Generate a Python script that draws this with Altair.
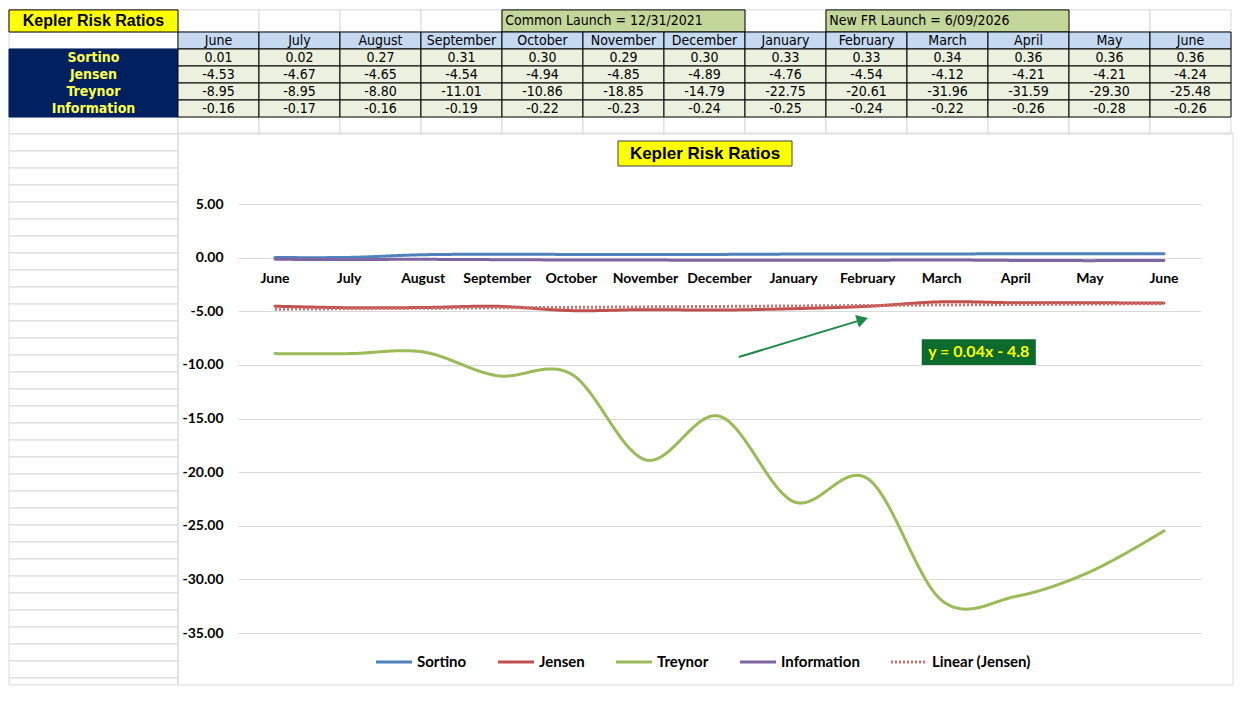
import math

import altair as alt
import pandas as pd

# --- data --------------------------------------------------------------------
MONTHS = ["June", "July", "August", "September", "October", "November", "December",
          "January", "February", "March", "April", "May", "June"]
SERIES = ["Sortino", "Jensen", "Treynor", "Information"]
SORTINO = [0.01, 0.02, 0.27, 0.31, 0.30, 0.29, 0.30, 0.33, 0.33, 0.34, 0.36, 0.36, 0.36]
JENSEN = [-4.53, -4.67, -4.65, -4.54, -4.94, -4.85, -4.89, -4.76, -4.54, -4.12, -4.21, -4.21, -4.24]
TREYNOR = [-8.95, -8.95, -8.80, -11.01, -10.86, -18.85, -14.79, -22.75, -20.61, -31.96, -31.59, -29.30, -25.48]
INFORMATION = [-0.16, -0.17, -0.16, -0.19, -0.22, -0.23, -0.24, -0.25, -0.24, -0.22, -0.26, -0.28, -0.26]
VALUES = [SORTINO, JENSEN, TREYNOR, INFORMATION]
TREND = "Linear (Jensen)"
Y_TICKS = [5, 0, -5, -10, -15, -20, -25, -30, -35]

TITLE = "Kepler Risk Ratios"
LAUNCH_NOTES = ["Common Launch = 12/31/2021", "New FR Launch = 6/09/2026"]
LAUNCH_SPANS = [(4, 7), (8, 11)]  # table columns covered by each note
EQUATION = "y = 0.04x - 4.8"

# --- palette (Excel 2010 defaults) -------------------------------------------
BLUE, RED, GREEN, PURPLE = "#4f81bd", "#c0504d", "#9bbb59", "#8064a2"
TREND_RED = "#cf6f6c"
NAVY = "#002060"
CREAM = "#ebf1de"
SKY = "#c5d9f1"
OLIVE = "#c4d79b"
YELLOW = "#ffff00"
LABEL_YELLOW = "#ffff4d"
GRID = "#d9d9d9"
EQ_GREEN = "#0b6a2c"
ARROW_GREEN = "#1f8a46"

NARROW = "'Liberation Sans Narrow', 'DejaVu Sans Condensed', 'Liberation Sans', sans-serif"
ARIAL = "'Liberation Sans', Arial, sans-serif"
CALIBRI = "Lato, 'Open Sans', sans-serif"

W, H = 963, 429
N = len(MONTHS)
LABEL_COLS = 2.086  # row-label column width, in month columns

# table scales put the sheet cells above the plot area (pixels from plot origin)
TX = alt.Scale(domain=[-LABEL_COLS, N], range=[-229, 993], nice=False, zero=False)
TY = alt.Scale(domain=[-0.3, 39], range=[-194.1, 474], nice=False, zero=False)
CX = alt.Scale(domain=[0.5, N + 0.5], nice=False, zero=False)
CY = alt.Scale(domain=[-35, 5], nice=False, zero=False)

ONE = pd.DataFrame({"a": [0]})


def col_edges(c):
    return (-LABEL_COLS, 0) if c < 0 else (c, c + 1)


def fmt(v):
    return f"{v:.2f}"


# --- spreadsheet table --------------------------------------------------------
grid_rows = []
for r in range(40):
    for c in (range(-1, N) if r < 7 else [-1]):
        x0, x1 = col_edges(c)
        grid_rows.append({"x0": x0, "x1": x1, "y0": -0.3 if r == 0 else r,
                          "y1": 39.4 if r == 39 else r + 1})
grid = pd.DataFrame(grid_rows)

cells = [{"x0": -LABEL_COLS, "x1": 0, "y0": -0.3, "y1": 1, "fill": YELLOW, "stroke": "black"}]
for a, b in LAUNCH_SPANS:
    cells.append({"x0": a, "x1": b, "y0": -0.3, "y1": 1, "fill": OLIVE, "stroke": "black"})
for c in range(N):
    cells.append({"x0": c, "x1": c + 1, "y0": 1, "y1": 2, "fill": SKY, "stroke": "black"})
for i in range(len(SERIES)):
    cells.append({"x0": -LABEL_COLS, "x1": 0, "y0": i + 2, "y1": i + 3, "fill": NAVY, "stroke": NAVY})
    for c in range(N):
        cells.append({"x0": c, "x1": c + 1, "y0": i + 2, "y1": i + 3, "fill": CREAM, "stroke": "black"})
cells = pd.DataFrame(cells)

numbers = pd.DataFrame([
    {"x": c + 0.5, "y": i + 2.5, "t": fmt(vals[c])}
    for i, vals in enumerate(VALUES) for c in range(N)
])
row_labels = pd.DataFrame({"x": -LABEL_COLS / 2, "y": [i + 2.5 for i in range(len(SERIES))], "t": SERIES})
heads = pd.DataFrame({"x": [c + 0.5 for c in range(N)], "y": 1.5, "t": MONTHS})
notes = pd.DataFrame({"x": [a + 0.04 for a, _ in LAUNCH_SPANS], "y": 0.35, "t": LAUNCH_NOTES})
tbl_title = pd.DataFrame({"x": [-LABEL_COLS / 2], "y": [0.35], "t": [TITLE]})

tx = alt.X("x0:Q", scale=TX, axis=None)
ty = alt.Y("y0:Q", scale=TY, axis=None)

sheet = alt.Chart(grid).mark_rect(fill="white", stroke=GRID, strokeWidth=1).encode(
    x=tx, x2="x1:Q", y=ty, y2="y1:Q")
coloured = alt.Chart(cells).mark_rect(strokeWidth=1).encode(
    x=tx, x2="x1:Q", y=ty, y2="y1:Q",
    fill=alt.Fill("fill:N", scale=None), stroke=alt.Stroke("stroke:N", scale=None))


def tbl_text(df, **kw):
    return alt.Chart(df).mark_text(baseline="middle", **kw).encode(
        x=alt.X("x:Q", scale=TX, axis=None), y=alt.Y("y:Q", scale=TY, axis=None), text="t:N")


table = alt.layer(
    sheet, coloured,
    tbl_text(tbl_title, font=ARIAL, fontSize=16, fontWeight="bold", color="black"),
    tbl_text(notes, font=NARROW, fontSize=14, color="black", align="left"),
    tbl_text(heads, font=NARROW, fontSize=14, color="black"),
    tbl_text(row_labels, font=NARROW, fontSize=14, fontWeight="bold", color=LABEL_YELLOW),
    tbl_text(numbers, font=NARROW, fontSize=14, color="black"),
)

# --- line chart ---------------------------------------------------------------
long = pd.DataFrame([
    {"idx": c + 1, "series": s, "value": vals[c]}
    for s, vals in zip(SERIES, VALUES) for c in range(N)
])
jensen = pd.DataFrame({"idx": list(range(1, N + 1)), "value": JENSEN})
month_df = pd.DataFrame({"idx": list(range(1, N + 1)), "month": MONTHS})

DOMAIN = SERIES + [TREND]
legend = alt.Legend(
    orient="none", legendX=136, legendY=438, direction="horizontal", title=None,
    symbolType="stroke", symbolSize=1300, labelFont=CALIBRI, labelFontSize=15,
    labelFontWeight="bold", labelColor="black", columnPadding=24, labelOffset=3,
)
color = alt.Color("series:N",
                  scale=alt.Scale(domain=DOMAIN, range=[BLUE, RED, GREEN, PURPLE, TREND_RED]),
                  legend=legend)
dash = alt.StrokeDash("series:N", scale=alt.Scale(domain=DOMAIN, range=[[1, 0]] * 4 + [[2, 2]]),
                      legend=legend)
width = alt.StrokeWidth("series:N", scale=alt.Scale(domain=DOMAIN, range=[3, 3, 3, 3, 1.1]),
                        legend=legend)

yaxis = alt.Axis(values=Y_TICKS, orient="left", grid=True, gridColor=GRID,
                 labelExpr="replace(format(datum.value, '.2f'), '\u2212', '-')",
                 domain=False, ticks=False, labelPadding=15, labelFont=CALIBRI,
                 labelFontSize=14, labelFontWeight="bold", labelColor="black", title=None)
cx = alt.X("idx:Q", scale=CX, axis=None)

box = alt.Chart(ONE).mark_rect(fill="transparent", stroke=GRID, strokeWidth=1).encode(
    x=alt.value(-60), x2=alt.value(995), y=alt.value(-71), y2=alt.value(481))
title_box = alt.Chart(ONE).mark_rect(fill=YELLOW, stroke="#404040", strokeWidth=1).encode(
    x=alt.value(380), x2=alt.value(554), y=alt.value(-63), y2=alt.value(-38))
title_txt = alt.Chart(ONE).mark_text(font=ARIAL, fontSize=17, fontWeight="bold", color="black",
                                     baseline="middle").encode(
    x=alt.value(467), y=alt.value(-50), text=alt.value(TITLE))

lines = alt.Chart(long).mark_line(interpolate="cardinal", strokeCap="round").encode(
    x=cx, y=alt.Y("value:Q", scale=CY, axis=yaxis), color=color, strokeDash=dash, strokeWidth=width)
trend = alt.Chart(jensen).transform_regression("idx", "value").transform_calculate(
    series=f"'{TREND}'").mark_line().encode(
    x=cx, y=alt.Y("value:Q", scale=CY), color=color, strokeDash=dash, strokeWidth=width)

month_txt = alt.Chart(month_df).mark_text(dy=21, font=CALIBRI, fontSize=14, fontWeight="bold",
                                          color="black", baseline="middle").encode(
    x=cx, y=alt.datum(0), text="month:N")

# annotation: arrow pointing at the trend line and the fitted equation
ARROW_FROM = (7.26, -9.27)
ARROW_TO = (8.93, -5.78)
EQ_BOX = (9.73, 11.27, -7.6, -10.0)
dx_px = (ARROW_TO[0] - ARROW_FROM[0]) * W / N
dy_px = (ARROW_TO[1] - ARROW_FROM[1]) * H / 40
head_angle = 90 - math.degrees(math.atan2(dy_px, dx_px))

arrow = alt.Chart(ONE).mark_rule(color=ARROW_GREEN, strokeWidth=2).encode(
    x=alt.datum(ARROW_FROM[0]), y=alt.datum(ARROW_FROM[1]),
    x2=alt.datum(ARROW_TO[0]), y2=alt.datum(ARROW_TO[1]))
head = alt.Chart(ONE).mark_point(shape="triangle-up", filled=True, size=170, opacity=1,
                                 color=ARROW_GREEN, angle=head_angle).encode(
    x=alt.datum(ARROW_TO[0]), y=alt.datum(ARROW_TO[1]))
eq_box = alt.Chart(ONE).mark_rect(fill=EQ_GREEN).encode(
    x=alt.datum(EQ_BOX[0]), x2=alt.datum(EQ_BOX[1]), y=alt.datum(EQ_BOX[2]), y2=alt.datum(EQ_BOX[3]))
eq_txt = alt.Chart(ONE).mark_text(font=CALIBRI, fontSize=16, fontWeight="bold", color=YELLOW,
                                  baseline="middle").encode(
    x=alt.datum((EQ_BOX[0] + EQ_BOX[1]) / 2), y=alt.datum((EQ_BOX[2] + EQ_BOX[3]) / 2),
    text=alt.value(EQUATION))

plot = alt.layer(box, title_box, title_txt, lines, trend, month_txt, arrow, head, eq_box, eq_txt)

chart = alt.layer(table, plot).resolve_scale(x="independent", y="independent").properties(
    width=W, height=H, background="white",
    padding={"left": 0, "top": 1, "right": 0, "bottom": 0},
).configure_view(strokeWidth=0)

chart.save("out.html", embed_options={"renderer": "svg", "actions": False})
